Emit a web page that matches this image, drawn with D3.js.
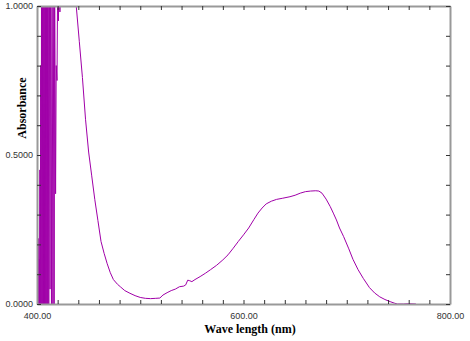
<!DOCTYPE html>
<html>
<head>
<meta charset="utf-8">
<script src="https://cdn.jsdelivr.net/npm/d3@7"></script>
<style>
  body { margin: 0; background: #fff; }
</style>
</head>
<body>
<div id="spectrum"></div>
<script>
// noisy, off-scale start of the scan (400 - 438 nm)
var waveNoise = [400.0, 400.4, 400.8, 401.2, 401.6, 402.0, 402.4, 402.8, 403.2, 403.6,
  404.0, 404.4, 404.8, 405.2, 405.6, 406.0, 406.4, 406.8, 407.2, 407.6,
  408.0, 408.4, 408.8, 409.2, 409.6, 410.0, 410.4, 410.8, 411.4, 412.0,
  412.6, 413.2, 414.0, 414.6, 415.4, 416.4, 416.6, 417.0, 418.0, 418.6,
  419.4, 420.2, 420.8, 421.4, 422.2, 423.0, 424.0, 425.0, 430.0]
var absNoise = [0.00, 0.27, 0.02, 0.22, 0.00, 0.15, 0.00, 0.45, 0.00, 0.80,
  0.00, 1.20, 0.00, 1.20, 0.00, 1.20, 0.00, 1.20, 0.00, 1.20,
  0.00, 1.20, 0.00, 1.20, 0.00, 1.20, 0.00, 1.20, 0.00, 1.20,
  0.05, 1.20, 0.00, 1.20, 0.00, 1.20, 0.00, 1.20, 0.37, 0.80,
  0.75, 1.20, 0.95, 1.20, 0.98, 1.20, 1.05, 1.20, 1.30]

// the measured band
var waveMain = [438, 441, 444, 447, 450, 453, 456, 459, 462, 465,
  468, 471, 474, 478, 481, 485, 490, 495, 500, 505,
  510, 515, 519, 522, 526, 530, 534, 538, 542, 544,
  546, 548, 550, 553, 558, 563, 568, 574, 580, 585,
  590, 595, 600, 605, 610, 614, 618, 622, 627, 632,
  638, 645, 650, 655, 660, 665, 670, 673, 676, 680,
  684, 687, 690, 693, 697, 702, 706, 711, 716, 722,
  727, 732, 737, 742, 746, 749, 755, 760, 767]
var absMain = [1.00, 0.88, 0.76, 0.62, 0.51, 0.43, 0.35, 0.28, 0.21, 0.17,
  0.135, 0.105, 0.082, 0.066, 0.057, 0.045, 0.036, 0.028, 0.022, 0.019,
  0.018, 0.019, 0.020, 0.030, 0.038, 0.045, 0.050, 0.058, 0.060, 0.064,
  0.080, 0.078, 0.075, 0.082, 0.092, 0.103, 0.115, 0.130, 0.148, 0.165,
  0.187, 0.210, 0.232, 0.255, 0.283, 0.305, 0.322, 0.336, 0.345, 0.351,
  0.355, 0.360, 0.365, 0.372, 0.377, 0.379, 0.380, 0.379, 0.372, 0.352,
  0.327, 0.305, 0.282, 0.255, 0.226, 0.185, 0.150, 0.115, 0.086, 0.055,
  0.037, 0.024, 0.015, 0.008, 0.003, 0.000, 0.000, 0.001, 0.000]

var xTicks = [400, 420, 440, 460, 480, 500, 520, 540, 560, 580, 600,
  620, 640, 660, 680, 700, 720, 740, 760, 780, 800]
var xTickLabels = [400, 600, 800]
var yTicks = [0, 0.1, 0.2, 0.3, 0.4, 0.5, 0.6, 0.7, 0.8, 0.9, 1.0]
var yTickLabels = [0, 0.5, 1.0]

var width = 470, height = 341
var margin = {top: 6, right: 20, bottom: 37, left: 37}
var lineColor = '#a000a8'

var svg = d3.select('#spectrum')
  .append('svg')
  .attr('width', width)
  .attr('height', height)

var x = d3.scaleLinear()
  .domain([400, 800])
  .range([margin.left, width - margin.right])
var y = d3.scaleLinear()
  .domain([0, 1])
  .range([height - margin.bottom, margin.top])

svg.append('clipPath')
  .attr('id', 'plot-clip')
  .append('rect')
  .attr('x', x(400))
  .attr('y', y(1))
  .attr('width', x(800) - x(400))
  .attr('height', y(0) - y(1))

// join the arrays into one list of points
var points = waveNoise.map(function(w, i) { return [w, absNoise[i]] })
  .concat(waveMain.map(function(w, i) { return [w, absMain[i]] }))

svg.append('path')
  .datum(points)
  .attr('clip-path', 'url(#plot-clip)')
  .attr('fill', 'none')
  .attr('stroke', lineColor)
  .attr('stroke-width', 1)
  .attr('d', d3.line()
    .x(function(d) { return x(d[0]) })
    .y(function(d) { return y(d[1]) })
  )

function xLabel(d) { return xTickLabels.indexOf(d) >= 0 ? d3.format('.2f')(d) : '' }
function yLabel(d) { return yTickLabels.indexOf(d) >= 0 ? d3.format('.4f')(d) : '' }

var axes = [
  {axis: d3.axisBottom(x).tickValues(xTicks).tickFormat(xLabel).tickPadding(9), t: 'translate(0,' + y(0) + ')'},
  {axis: d3.axisTop(x).tickValues(xTicks).tickFormat(''), t: 'translate(0,' + y(1) + ')'},
  {axis: d3.axisLeft(y).tickValues(yTicks).tickFormat(yLabel).tickPadding(4), t: 'translate(' + x(400) + ',0)'},
  {axis: d3.axisRight(y).tickValues(yTicks).tickFormat(''), t: 'translate(' + x(800) + ',0)'}
]
axes.forEach(function(a) {
  var g = svg.append('g')
    .attr('transform', a.t)
    .call(a.axis.tickSizeInner(-4).tickSizeOuter(0))
  g.select('.domain').attr('stroke', '#999').attr('stroke-width', 2)
  g.selectAll('.tick line').attr('stroke', '#333')
  g.selectAll('.tick text')
    .attr('fill', '#333')
    .style('font-family', '"Liberation Sans", Arial, sans-serif')
    .style('font-size', '9px')
})

svg.append('text')
  .attr('x', 250)
  .attr('y', 333)
  .attr('text-anchor', 'middle')
  .style('font-family', '"Liberation Serif", "Times New Roman", serif')
  .style('font-weight', 'bold')
  .style('font-size', '12px')
  .text('Wave length (nm)')

svg.append('text')
  .attr('transform', 'translate(26,108) rotate(-90)')
  .attr('text-anchor', 'middle')
  .style('font-family', '"Liberation Serif", "Times New Roman", serif')
  .style('font-weight', 'bold')
  .style('font-size', '12px')
  .text('Absorbance')
</script>
</body>
</html>
